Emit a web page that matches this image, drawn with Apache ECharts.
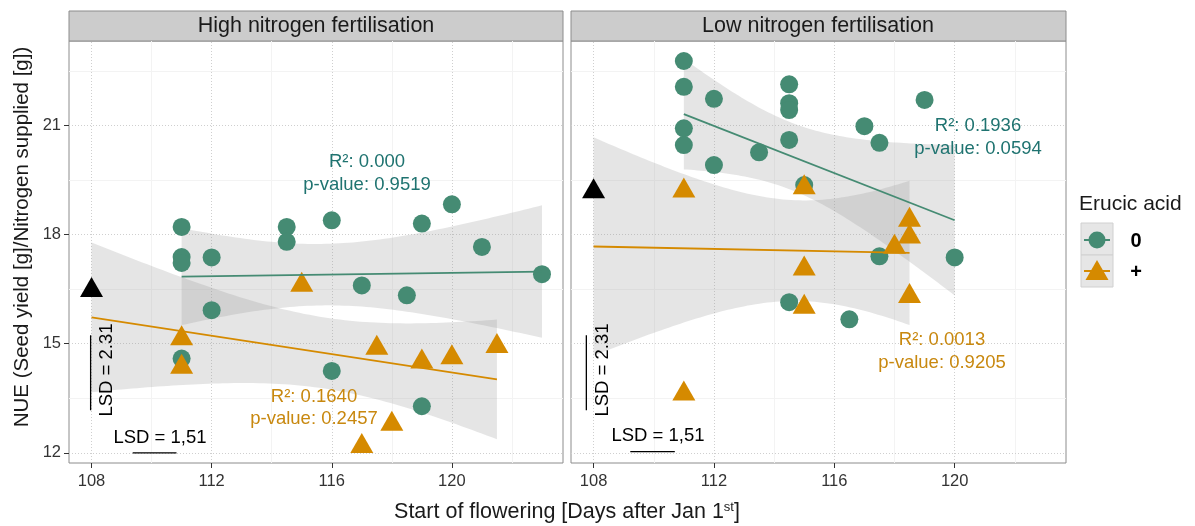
<!DOCTYPE html>
<html>
<head>
<meta charset="utf-8">
<script src="https://cdn.jsdelivr.net/npm/echarts@6/dist/echarts.min.js"></script>
<style>
  html, body { margin: 0; padding: 0; background: #fff; }
  #main { width: 1195px; height: 526px; }
</style>
</head>
<body>
<div id="main"></div>
<script>
// --- data ---
var panels = ['High nitrogen fertilisation', 'Low nitrogen fertilisation'];

// high N, erucic acid "0"
var hi0Day = [111, 111, 111, 111, 112, 112, 114.5, 114.5, 116, 116, 117, 118.5, 119, 119, 120, 121, 123];
var hi0Nue = [18.21, 17.38, 17.22, 14.59, 17.37, 15.92, 18.21, 17.80, 18.39, 14.25, 16.60, 16.33, 18.30, 13.28, 18.83, 17.66, 16.91];
// high N, erucic acid "+"
var hiPlusDay = [111, 111, 115, 117, 117.5, 118, 119, 120, 121.5];
var hiPlusNue = [15.23, 14.45, 16.70, 12.27, 14.97, 12.88, 14.59, 14.71, 15.02];
var hiParent = [108, 16.56];

// low N, erucic acid "0"
var lo0Day = [111, 111, 111, 111, 112, 112, 113.5, 114.5, 114.5, 114.5, 114.5, 114.5, 115, 116.5, 117, 117.5, 117.5, 119, 120];
var lo0Nue = [22.77, 22.06, 20.92, 20.46, 21.73, 19.91, 20.26, 22.13, 21.61, 21.42, 20.60, 16.14, 19.36, 15.67, 20.98, 20.52, 17.40, 21.70, 17.37];
// low N, erucic acid "+"
var loPlusDay = [111, 111, 115, 115, 115, 118, 118.5, 118.5, 118.5];
var loPlusNue = [19.29, 13.71, 19.38, 17.15, 16.10, 17.75, 18.49, 18.03, 16.39];
var loParent = [108, 19.27];

var xTicks = [108, 112, 116, 120];
var xMinor = [110, 114, 118, 122];
var yTicks = [12, 15, 18, 21];
var yMinor = [13.5, 16.5, 19.5, 22.5];

var fitLabels = [
	{ r2: 'R²: 0.000', p: 'p-value: 0.9519' },
	{ r2: 'R²: 0.1640', p: 'p-value: 0.2457' },
	{ r2: 'R²: 0.1936', p: 'p-value: 0.0594' },
	{ r2: 'R²: 0.0013', p: 'p-value: 0.9205' }
];
var lsdVertical = ['LSD = 2.31', 'LSD = 2.31'];
var lsdHorizontal = ['LSD = 1,51', 'LSD = 1,51'];

// student t 0.975 quantiles by degrees of freedom
var tQuantile = { 8: 2.306, 15: 2.131, 17: 2.110 };

var GREEN = '#458b73';
var ORANGE = '#d58a00';
var GREEN_TXT = '#1f7370';
var ORANGE_TXT = '#c8880f';
var FONT = '"Liberation Sans", Arial, sans-serif';

function pairs(xs, ys) {
	return xs.map(function (x, i) { return [x, ys[i]]; });
}

// linear fit with 95% confidence band (like geom_smooth(method = lm))
function linFit(xs, ys) {
	var n = xs.length, mx = 0, my = 0, sxx = 0, sxy = 0, syy = 0;
	xs.forEach(function (x, i) { mx += x; my += ys[i]; });
	mx /= n; my /= n;
	xs.forEach(function (x, i) {
		sxx += (x - mx) * (x - mx);
		sxy += (x - mx) * (ys[i] - my);
		syy += (ys[i] - my) * (ys[i] - my);
	});
	var b = sxy / sxx, a = my - b * mx;
	var s = Math.sqrt((syy - b * sxy) / (n - 2));
	var tq = tQuantile[n - 2];
	var lo = Math.min.apply(null, xs), hi = Math.max.apply(null, xs);
	var upper = [], lower = [];
	for (var k = 0; k <= 80; k++) {
		var x = lo + (hi - lo) * k / 80;
		var yh = a + b * x;
		var se = s * Math.sqrt(1 / n + (x - mx) * (x - mx) / sxx);
		upper.push([x, yh + tq * se]);
		lower.push([x, yh - tq * se]);
	}
	return {
		line: [[lo, a + b * lo], [hi, a + b * hi]],
		band: upper.concat(lower.reverse())
	};
}

var groups = [
	{ grid: 0, color: GREEN, fit: linFit(hi0Day, hi0Nue) },
	{ grid: 0, color: ORANGE, fit: linFit(hiPlusDay.concat([hiParent[0]]), hiPlusNue.concat([hiParent[1]])) },
	{ grid: 1, color: GREEN, fit: linFit(lo0Day, lo0Nue) },
	{ grid: 1, color: ORANGE, fit: linFit(loPlusDay.concat([loParent[0]]), loPlusNue.concat([loParent[1]])) }
];

var grids = [
	{ left: 69, top: 41, width: 494, height: 422 },
	{ left: 571, top: 41, width: 495, height: 422 }
];

var xAxes = [], yAxes = [], series = [];
grids.forEach(function (g, i) {
	g.show = true;
	g.backgroundColor = '#fff';
	g.borderColor = '#8c8c8c';
	g.borderWidth = 1;
	xAxes.push({
		type: 'value', gridIndex: i, min: 107.25, max: 123.7,
		axisLine: { show: false },
		axisTick: { show: true, inside: false, length: 5, customValues: xTicks, lineStyle: { color: '#333', width: 1 } },
		axisLabel: { customValues: xTicks, color: '#333', fontSize: 16.5, fontFamily: FONT, margin: 10 },
		splitLine: { show: false }
	});
	yAxes.push({
		type: 'value', gridIndex: i, min: 11.72, max: 23.32,
		axisLine: { show: false },
		axisTick: { show: i === 0, inside: false, length: 5, customValues: yTicks, lineStyle: { color: '#333', width: 1 } },
		axisLabel: { show: i === 0, customValues: yTicks, color: '#333', fontSize: 16.5, fontFamily: FONT, margin: 8 },
		splitLine: { show: false }
	});
	// panel grid lines, kept under everything else
	var ml = [];
	xMinor.forEach(function (v) { ml.push({ xAxis: v, lineStyle: { color: '#f3f3f3', type: 'solid', width: 1 } }); });
	yMinor.forEach(function (v) { ml.push({ yAxis: v, lineStyle: { color: '#f3f3f3', type: 'solid', width: 1 } }); });
	xTicks.forEach(function (v) { ml.push({ xAxis: v, lineStyle: { color: '#cfcfcf', type: [1, 2], width: 1 } }); });
	yTicks.forEach(function (v) { ml.push({ yAxis: v, lineStyle: { color: '#cfcfcf', type: [1, 2], width: 1 } }); });
	series.push({
		type: 'line', xAxisIndex: i, yAxisIndex: i, data: [], z: 0, silent: true,
		markLine: { z: 0, silent: true, symbol: ['none', 'none'], label: { show: false }, animation: false, data: ml }
	});
});

// confidence bands
groups.forEach(function (gr) {
	series.push({
		type: 'custom', xAxisIndex: gr.grid, yAxisIndex: gr.grid, z: 1, silent: true,
		data: [0],
		renderItem: function (params, api) {
			return {
				type: 'polygon',
				shape: { points: gr.fit.band.map(function (p) { return api.coord(p); }) },
				style: { fill: 'rgba(153,153,153,0.25)' }
			};
		}
	});
});

// points
function scatter(grid, data, symbol, size, color) {
	return {
		type: 'scatter', xAxisIndex: grid, yAxisIndex: grid, z: 3,
		symbol: symbol, symbolSize: size, data: data,
		itemStyle: { color: color, opacity: 1 }
	};
}
series.push(scatter(0, pairs(hi0Day, hi0Nue), 'circle', 18, GREEN));
series.push(scatter(0, pairs(hiPlusDay, hiPlusNue), 'triangle', [23, 20], ORANGE));
series.push(scatter(0, [hiParent], 'triangle', [23, 20], '#000'));
series.push(scatter(1, pairs(lo0Day, lo0Nue), 'circle', 18, GREEN));
series.push(scatter(1, pairs(loPlusDay, loPlusNue), 'triangle', [23, 20], ORANGE));
series.push(scatter(1, [loParent], 'triangle', [23, 20], '#000'));

// regression lines
groups.forEach(function (gr) {
	series.push({
		type: 'line', xAxisIndex: gr.grid, yAxisIndex: gr.grid, z: 4, silent: true,
		data: gr.fit.line, symbol: 'none',
		lineStyle: { color: gr.color, width: 1.8 }
	});
});

// LSD bars
var lsdBars = [
	[[107.97, 15.23], [107.97, 13.17]], [[109.37, 12], [110.83, 12]],
	[[107.76, 15.23], [107.76, 13.17]], [[109.22, 12.03], [110.7, 12.03]]
];
lsdBars.forEach(function (seg, k) {
	series.push({
		type: 'line', xAxisIndex: k < 2 ? 0 : 1, yAxisIndex: k < 2 ? 0 : 1, z: 4, silent: true,
		data: seg, symbol: 'none', lineStyle: { color: '#000', width: 1.3 }
	});
});

function txt(x, y, text, color, size, extra) {
	var o = {
		type: 'text', x: x, y: y, z: 10,
		style: { text: text, fill: color, fontSize: size, fontFamily: FONT, align: 'center', verticalAlign: 'middle' }
	};
	if (extra) { for (var k in extra) o[k] = extra[k]; }
	return o;
}

var graphic = [
	{ type: 'rect', shape: { x: 69, y: 11, width: 494, height: 30 }, style: { fill: '#cccccc', stroke: '#8c8c8c', lineWidth: 1 } },
	{ type: 'rect', shape: { x: 571, y: 11, width: 495, height: 30 }, style: { fill: '#cccccc', stroke: '#8c8c8c', lineWidth: 1 } },
	txt(316, 26, panels[0], '#1a1a1a', 21.5),
	txt(818, 26, panels[1], '#1a1a1a', 21.5),
	txt(367, 162, fitLabels[0].r2, GREEN_TXT, 18.5),
	txt(367, 185, fitLabels[0].p, GREEN_TXT, 18.5),
	txt(314, 397, fitLabels[1].r2, ORANGE_TXT, 18.5),
	txt(314, 419, fitLabels[1].p, ORANGE_TXT, 18.5),
	txt(978, 126, fitLabels[2].r2, GREEN_TXT, 18.5),
	txt(978, 149, fitLabels[2].p, GREEN_TXT, 18.5),
	txt(942, 340, fitLabels[3].r2, ORANGE_TXT, 18.5),
	txt(942, 363, fitLabels[3].p, ORANGE_TXT, 18.5),
	txt(107, 370, lsdVertical[0], '#000', 18.5, { rotation: Math.PI / 2 }),
	txt(603, 370, lsdVertical[1], '#000', 18.5, { rotation: Math.PI / 2 }),
	txt(160, 438, lsdHorizontal[0], '#000', 18.5),
	txt(658, 436, lsdHorizontal[1], '#000', 18.5),
	// axis titles
	txt(22, 237, 'NUE (Seed yield [g]/Nitrogen supplied [g])', '#1a1a1a', 20.5, { rotation: Math.PI / 2 }),
	{
		type: 'text', x: 567, y: 512, z: 10,
		style: {
			text: 'Start of flowering [Days after Jan 1{sup|st}]',
			fill: '#1a1a1a', fontSize: 21.5, fontFamily: FONT, align: 'center', verticalAlign: 'middle',
			rich: { sup: { fontSize: 13, fontFamily: FONT, fill: '#1a1a1a', padding: [0, 0, 10, 0] } }
		}
	},
	// legend
	{ type: 'text', x: 1079, y: 204, style: { text: 'Erucic acid', fill: '#1a1a1a', fontSize: 21, fontFamily: FONT, align: 'left', verticalAlign: 'middle' } },
	{ type: 'rect', shape: { x: 1081, y: 223, width: 32, height: 32 }, style: { fill: '#e6e6e6', stroke: '#d0d0d0', lineWidth: 1 } },
	{ type: 'rect', shape: { x: 1081, y: 255, width: 32, height: 32 }, style: { fill: '#e6e6e6', stroke: '#d0d0d0', lineWidth: 1 } },
	{ type: 'line', shape: { x1: 1084, y1: 240, x2: 1110, y2: 240 }, style: { stroke: GREEN, lineWidth: 2 } },
	{ type: 'circle', shape: { cx: 1097, cy: 240, r: 8.5 }, style: { fill: GREEN } },
	{ type: 'line', shape: { x1: 1084, y1: 271, x2: 1110, y2: 271 }, style: { stroke: ORANGE, lineWidth: 2 } },
	{ type: 'polygon', shape: { points: [[1097, 260], [1108.5, 280], [1085.5, 280]] }, style: { fill: ORANGE } },
	{ type: 'text', x: 1136, y: 241, style: { text: '0', fill: '#000', fontSize: 20, fontWeight: 'bold', fontFamily: FONT, align: 'center', verticalAlign: 'middle' } },
	{ type: 'text', x: 1136, y: 272, style: { text: '+', fill: '#000', fontSize: 20, fontWeight: 'bold', fontFamily: FONT, align: 'center', verticalAlign: 'middle' } }
];

var chart = echarts.init(document.getElementById('main'));
chart.setOption({
	animation: false,
	backgroundColor: '#fff',
	grid: grids,
	xAxis: xAxes,
	yAxis: yAxes,
	series: series,
	graphic: graphic
});
</script>
</body>
</html>
